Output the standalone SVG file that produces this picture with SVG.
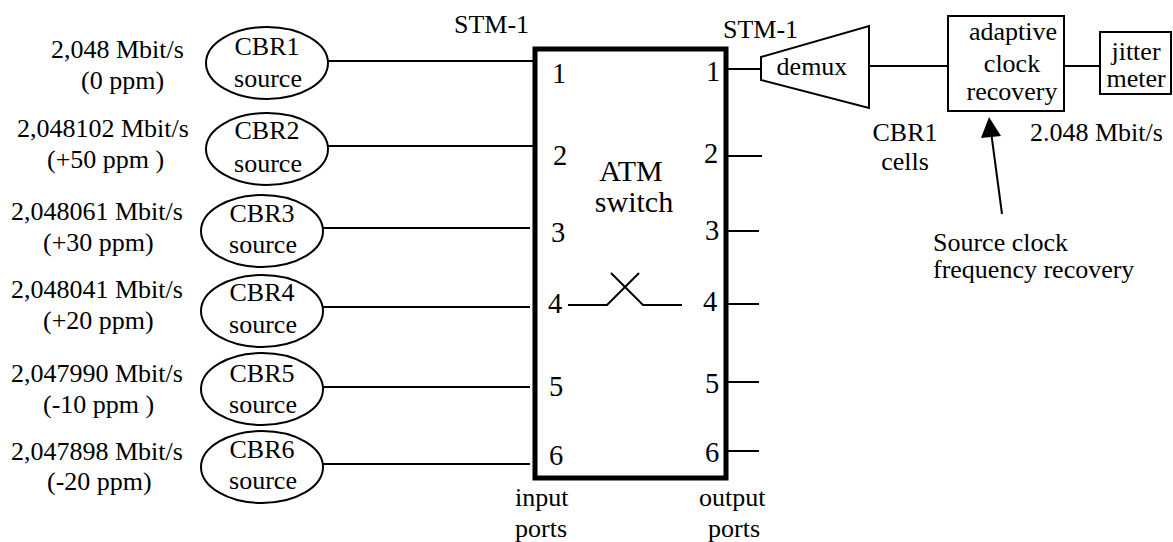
<svg xmlns="http://www.w3.org/2000/svg" width="1173" height="542" viewBox="0 0 1173 542" font-family="'Liberation Serif', 'Times New Roman', Times, serif">
<style>
text{font-family:'Liberation Serif','Times New Roman',Times,serif;font-size:26px;fill:#000}
.c{text-anchor:middle}
.n{font-size:28.5px;text-anchor:middle}
.big{font-size:30px;text-anchor:middle}
.ln{stroke:#000;stroke-width:2;fill:none}
.sh{fill:#fff;stroke:#000;stroke-width:2}
</style>
<rect width="1173" height="542" fill="#fff"/>

<g id="connectors">
<line class="ln" x1="328" y1="61" x2="535" y2="61"/>
<line class="ln" x1="328" y1="146" x2="535" y2="146"/>
<line class="ln" x1="323" y1="228" x2="530" y2="228"/>
<line class="ln" x1="323" y1="307" x2="530" y2="307"/>
<line class="ln" x1="323" y1="387" x2="530" y2="387"/>
<line class="ln" x1="323" y1="464" x2="530" y2="464"/>
<line class="ln" x1="726" y1="69" x2="761" y2="69"/>
<line class="ln" x1="726" y1="156" x2="762" y2="156"/>
<line class="ln" x1="726" y1="231" x2="759" y2="231"/>
<line class="ln" x1="724" y1="304" x2="759" y2="304"/>
<line class="ln" x1="726" y1="382" x2="759" y2="382"/>
<line class="ln" x1="726" y1="451" x2="759" y2="451"/>
<polyline class="ln" points="568,305 607,305 639,273"/>
<polyline class="ln" points="611,273 643,305 682,305"/>
<line class="ln" x1="869" y1="66" x2="948" y2="66"/>
<line class="ln" x1="1064" y1="66" x2="1100" y2="66"/>
<line x1="1002" y1="214" x2="990" y2="124" stroke="#000" stroke-width="2"/>
<polygon points="989,117 981,138 1001,136" fill="#000"/>
</g>

<g id="labels" font-family="'Liberation Serif', serif">
<text x="51" y="58">2,048 Mbit/s</text>
<text x="81" y="89">(0 ppm)</text>
<text x="17" y="137">2,048102 Mbit/s</text>
<text x="47" y="168">(+50 ppm )</text>
<text x="11" y="220">2,048061 Mbit/s</text>
<text x="43" y="251">(+30 ppm)</text>
<text x="11" y="298">2,048041 Mbit/s</text>
<text x="43" y="329">(+20 ppm)</text>
<text x="11" y="382">2,047990 Mbit/s</text>
<text x="43" y="413">(-10 ppm )</text>
<text x="11" y="460">2,047898 Mbit/s</text>
<text x="47" y="490">(-20 ppm)</text>
<text x="454" y="33">STM-1</text>
<text x="723" y="38">STM-1</text>
<text x="515" y="506">input</text>
<text x="515" y="537">ports</text>
<text x="699" y="506">output</text>
<text x="708" y="537">ports</text>
<text class="c" x="905" y="141">CBR1</text>
<text class="c" x="905" y="170">cells</text>
<text x="1030" y="141">2.048 Mbit/s</text>
<text x="933" y="251">Source clock</text>
<text x="933" y="278">frequency recovery</text>
</g>

<g id="cbr1"><ellipse class="sh" cx="267" cy="63" rx="61" ry="36"/><text class="c" x="267" y="55">CBR1</text><text class="c" x="268" y="87">source</text></g>
<g id="cbr2"><ellipse class="sh" cx="267" cy="149" rx="61" ry="36"/><text class="c" x="267" y="139">CBR2</text><text class="c" x="268" y="172">source</text></g>
<g id="cbr3"><ellipse class="sh" cx="262" cy="231" rx="61" ry="36"/><text class="c" x="262" y="222">CBR3</text><text class="c" x="263" y="253">source</text></g>
<g id="cbr4"><ellipse class="sh" cx="262" cy="311" rx="61" ry="36"/><text class="c" x="262" y="301">CBR4</text><text class="c" x="263" y="333">source</text></g>
<g id="cbr5"><ellipse class="sh" cx="262" cy="389" rx="61" ry="36"/><text class="c" x="262" y="382">CBR5</text><text class="c" x="263" y="413">source</text></g>
<g id="cbr6"><ellipse class="sh" cx="262" cy="467" rx="61" ry="36"/><text class="c" x="262" y="458">CBR6</text><text class="c" x="263" y="489">source</text></g>

<g id="atm-switch">
<rect x="535" y="49" width="191" height="429" fill="none" stroke="#000" stroke-width="5"/>
<text class="big" x="631" y="181">ATM</text>
<text class="big" x="634" y="212">switch</text>
<text class="n" x="559" y="83">1</text>
<text class="n" x="560" y="165">2</text>
<text class="n" x="558" y="242">3</text>
<text class="n" x="555" y="313">4</text>
<text class="n" x="556" y="396">5</text>
<text class="n" x="556" y="465">6</text>
<text class="n" x="713" y="81">1</text>
<text class="n" x="711" y="163">2</text>
<text class="n" x="712" y="240">3</text>
<text class="n" x="710" y="311">4</text>
<text class="n" x="712" y="393">5</text>
<text class="n" x="712" y="462">6</text>
</g>

<g id="demux">
<polygon class="sh" points="761,57 869,26 869,108 761,80"/>
<text class="c" x="812" y="75">demux</text>
</g>

<g id="adaptive-clock-recovery">
<rect class="sh" x="948" y="16" width="116" height="95"/>
<text class="c" x="1013" y="40">adaptive</text>
<text class="c" x="1012" y="72">clock</text>
<text class="c" x="1012" y="100">recovery</text>
</g>

<g id="jitter-meter">
<rect class="sh" x="1100" y="32" width="71" height="62"/>
<text class="c" x="1136" y="60">jitter</text>
<text class="c" x="1136" y="87">meter</text>
</g>
</svg>
